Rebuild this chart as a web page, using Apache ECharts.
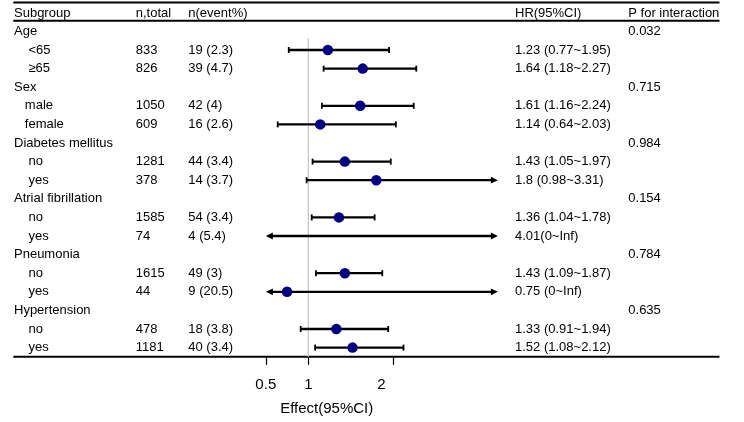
<!DOCTYPE html>
<html><head><meta charset="utf-8">
<script src="https://cdn.jsdelivr.net/npm/echarts@6/dist/echarts.min.js"></script>
<style>html,body{margin:0;padding:0;background:#fff}#c{width:744px;height:422px}</style>
</head><body><div id="c"></div>
<script>
const headers = ['Subgroup','n,total','n(event%)','HR(95%CI)','P for interaction'];
const subgroups = ['Age','    <65','    ≥65','Sex','   male','   female','Diabetes mellitus','    no','    yes','Atrial fibrillation','    no','    yes','Pneumonia','    no','    yes','Hypertension','    no','    yes'];
const nTotal = ['','833','826','','1050','609','','1281','378','','1585','74','','1615','44','','478','1181'];
const nEvent = ['','19 (2.3)','39 (4.7)','','42 (4)','16 (2.6)','','44 (3.4)','14 (3.7)','','54 (3.4)','4 (5.4)','','49 (3)','9 (20.5)','','18 (3.8)','40 (3.4)'];
const hrText = ['','1.23 (0.77~1.95)','1.64 (1.18~2.27)','','1.61 (1.16~2.24)','1.14 (0.64~2.03)','','1.43 (1.05~1.97)','1.8 (0.98~3.31)','','1.36 (1.04~1.78)','4.01(0~Inf)','','1.43 (1.09~1.87)','0.75 (0~Inf)','','1.33 (0.91~1.94)','1.52 (1.08~2.12)'];
const pInteraction = ['0.032','','','0.715','','','0.984','','','0.154','','','0.784','','','0.635','',''];
const hr    = [null,1.23,1.64,null,1.61,1.14,null,1.43,1.8,null,1.36,4.01,null,1.43,0.75,null,1.33,1.52];
const lower = [null,0.77,1.18,null,1.16,0.64,null,1.05,0.98,null,1.04,0,null,1.09,0,null,0.91,1.08];
const upper = [null,1.95,2.27,null,2.24,2.03,null,1.97,3.31,null,1.78,Infinity,null,1.87,Infinity,null,1.94,2.12];
const xTicks = [0.5, 1, 2];
const xMin = 0.5, xMax = 3.23;
const refValue = 1;
const axisTitle = 'Effect(95%CI)';

const FONT = '"Liberation Sans", Arial, Helvetica, sans-serif';
const rowIds = subgroups.map((_, i) => String(i));
const GL = 265.8, GR = 744 - 497.9, GT = 22.1, GB = 422 - 356.9;

function colAxis(texts, position, offset) {
  return {
    type: 'category', data: rowIds, inverse: true, position: position, offset: offset,
    axisLine: {show: false}, axisTick: {show: false}, splitLine: {show: false},
    axisLabel: {interval: 0, margin: 0, align: 'left', fontSize: 13, color: '#000', fontFamily: FONT,
      formatter: (v, i) => texts[Number(v)]}
  };
}

const colX = [14, 135.7, 188.3, 515, 628.3];
const chart = echarts.init(document.getElementById('c'), null, {renderer: 'canvas'});

const pointData = hr.map((v, i) => v == null ? null : [v, i]).filter(d => d && d[0] <= xMax && d[0] >= xMin);
const ciData = lower.map((v, i) => v == null ? null : [v, isFinite(upper[i]) ? upper[i] : xMax * 100, i]).filter(Boolean);

const graphics = [];
headers.forEach((h, k) => graphics.push({type: 'text', x: colX[k], y: 13.3, style: {text: h, fontSize: 13, fontFamily: FONT, fill: '#000', verticalAlign: 'middle', align: 'left'}}));
[2.5, 20.7, 356.8].forEach(y => graphics.push({type: 'line', shape: {x1: 13.3, y1: y, x2: 719.5, y2: y}, style: {stroke: '#000', lineWidth: 2}}));
graphics.push({type: 'text', x: 326.7, y: 409.3, style: {text: axisTitle, fontSize: 15, fontFamily: FONT, fill: '#000', align: 'center', verticalAlign: 'middle'}});

chart.setOption({
  animation: false,
  backgroundColor: '#fff',
  textStyle: {fontFamily: FONT},
  grid: {left: GL, right: GR, top: GT, bottom: GB, containLabel: false, outerBoundsMode: 'none'},
  xAxis: {
    type: 'value', min: xMin, max: xMax,
    axisLine: {show: false},
    splitLine: {show: false},
    axisTick: {show: true, length: 8, customValues: xTicks, lineStyle: {color: '#000', width: 1.2}},
    axisLabel: {customValues: xTicks, margin: 20, fontSize: 15, color: '#000', fontFamily: FONT,
      formatter: v => v === 2 ? '{s|' + v + '}' : String(v),
      rich: {s: {fontSize: 15, color: '#000', fontFamily: FONT, padding: [0, 24, 0, 0]}}}
  },
  yAxis: [
    colAxis(subgroups, 'left', GL - colX[0]),
    colAxis(nTotal, 'left', GL - colX[1]),
    colAxis(nEvent, 'left', GL - colX[2]),
    colAxis(hrText, 'right', colX[3] - (744 - GR)),
    colAxis(pInteraction, 'right', colX[4] - (744 - GR))
  ],
  graphic: graphics,
  series: [
    {
      type: 'custom', z: 1, silent: true,
      data: [[refValue, 1]],
      encode: {x: 0, y: 1},
      renderItem: function (params, api) {
        const p = api.coord([api.value(0), api.value(1)]);
        const band = api.size([0, 1])[1];
        const cs = params.coordSys;
        return {type: 'line', shape: {x1: p[0], y1: p[1] - band * 0.63, x2: p[0], y2: cs.y + cs.height},
          style: {stroke: '#c4c4c4', lineWidth: 1.2}};
      }
    },
    {
      type: 'custom', z: 2, silent: true, clip: false,
      data: ciData,
      encode: {x: [0, 1], y: 2},
      renderItem: function (params, api) {
        const lo = api.value(0), hi = api.value(1), row = api.value(2);
        const loC = Math.max(lo, xMin), hiC = Math.min(hi, xMax);
        const a = api.coord([loC, row]), b = api.coord([hiC, row]);
        const y = a[1], x1 = a[0], x2 = b[0];
        const leftArrow = lo < xMin, rightArrow = hi > xMax;
        const AL = 7, AW = 3.4, CH = 3;
        const children = [];
        const lx1 = leftArrow ? x1 + AL - 1 : x1, lx2 = rightArrow ? x2 - AL + 1 : x2;
        children.push({type: 'line', shape: {x1: lx1, y1: y, x2: lx2, y2: y}, style: {stroke: '#000', lineWidth: 2.3}});
        if (leftArrow) children.push({type: 'polygon', shape: {points: [[x1, y], [x1 + AL, y - AW], [x1 + AL, y + AW]]}, style: {fill: '#000'}});
        else children.push({type: 'line', shape: {x1: x1, y1: y - CH, x2: x1, y2: y + CH}, style: {stroke: '#000', lineWidth: 1.8}});
        if (rightArrow) children.push({type: 'polygon', shape: {points: [[x2, y], [x2 - AL, y - AW], [x2 - AL, y + AW]]}, style: {fill: '#000'}});
        else children.push({type: 'line', shape: {x1: x2, y1: y - CH, x2: x2, y2: y + CH}, style: {stroke: '#000', lineWidth: 1.8}});
        return {type: 'group', children: children};
      }
    },
    {
      type: 'scatter', z: 3, clip: true, silent: true,
      data: pointData,
      symbol: 'circle', symbolSize: 10.5,
      itemStyle: {color: '#000080', opacity: 1}
    }
  ]
});
</script></body></html>
